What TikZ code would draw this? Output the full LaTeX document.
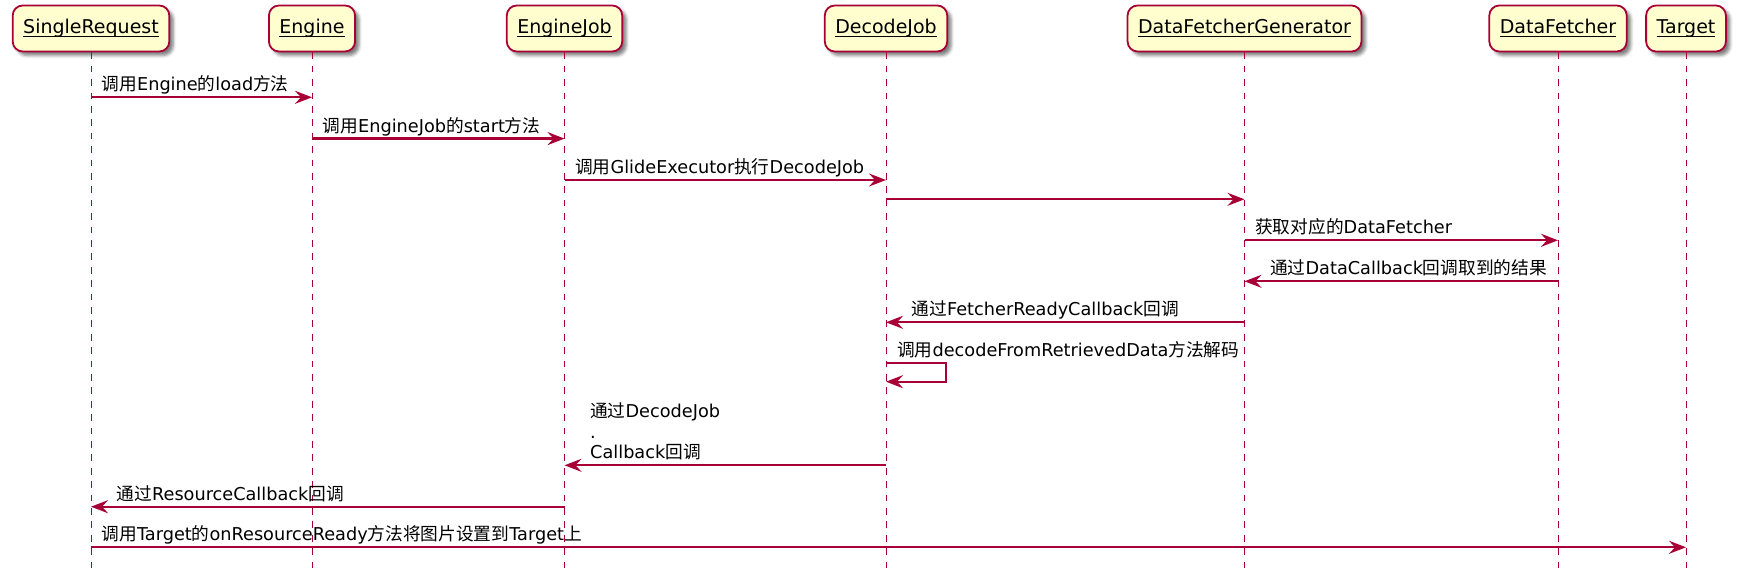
\documentclass[tikz,border=0pt]{standalone}
\usepackage{fontspec}
\setmainfont{DejaVu Sans}
\newfontfamily\cjk{Noto Sans CJK SC}
\usetikzlibrary{arrows.meta,shadows.blur}
\definecolor{plborder}{HTML}{A80036}
\definecolor{plfill}{HTML}{FEFECE}
\newcommand\zh[1]{{\cjk #1}}
\newcommand\ulin[1]{\setbox0\hbox{#1}\rlap{\rule[-3.5pt]{\wd0}{1.3pt}}\box0}
\begin{document}
\begin{tikzpicture}[x=1pt,y=-1pt,
  participant/.style={draw=plborder, line width=1.8pt, fill=plfill, rounded corners=10pt,
    minimum height=46pt, inner xsep=10.5pt, inner ysep=0pt, font=\fontsize{19}{22}\selectfont,
    blur shadow={shadow xshift=4pt, shadow yshift=-4pt, shadow blur radius=3pt, shadow opacity=50}},
  lifeline/.style={draw=plborder, line width=1pt, dash pattern=on 6.7pt off 6.7pt},
  msg/.style={draw=plborder, line width=2.3pt, -{Stealth[length=17pt,width=13pt,inset=6pt]}},
  lbl/.style={anchor=base west, inner sep=0pt, font=\fontsize{17.7}{20.5}\selectfont}
]
\useasboundingbox (0,0) rectangle (1739,588);
% participants
\node[participant] (sr)  at (91,28.5)   {\ulin{SingleRequest}};
\node[participant] (en)  at (312,28.5)  {\ulin{Engine}};
\node[participant] (ej)  at (564.5,28.5){\ulin{EngineJob}};
\node[participant] (dj)  at (886,28.5)  {\ulin{DecodeJob}};
\node[participant] (dfg) at (1244.5,28.5){\ulin{DataFetcherGenerator}};
\node[participant] (df)  at (1558,28.5) {\ulin{DataFetcher}};
\node[participant] (tg)  at (1686,28.5) {\ulin{Target}};
% rows
\coordinate (bot) at (0,572);
\coordinate (m1) at (0,97.3);
\coordinate (m2) at (0,138.6);
\coordinate (m3) at (0,180);
\coordinate (m4) at (0,199.3);
\coordinate (m5) at (0,240.3);
\coordinate (m6) at (0,281.3);
\coordinate (m7) at (0,322.3);
\coordinate (m8) at (0,363.3);
\coordinate (m8b) at (0,381.7);
\coordinate (m9) at (0,465.3);
\coordinate (m10) at (0,506.7);
\coordinate (m11) at (0,547.3);
% lifelines
\foreach \p in {sr,en,ej,dj,dfg,df,tg}{
  \draw[lifeline] (\p.south) -- (\p |- bot);
}
% messages
\draw[msg] (sr |- m1) -- (en |- m1);
\node[lbl] (l1) at ([shift={(10.5,-6.5)}]sr |- m1) {\zh{调用}Engine\zh{的}load\zh{方法}};
\draw[msg] (en |- m2) -- (ej |- m2);
\node[lbl] (l2) at ([shift={(10.5,-6.5)}]en |- m2) {\zh{调用}EngineJob\zh{的}start\zh{方法}};
\draw[msg] (ej |- m3) -- (dj |- m3);
\node[lbl] (l3) at ([shift={(10.5,-6.5)}]ej |- m3) {\zh{调用}GlideExecutor\zh{执行}DecodeJob};
\draw[msg] (dj |- m4) -- (dfg |- m4);
\draw[msg] (dfg |- m5) -- (df |- m5);
\node[lbl] (l5) at ([shift={(10.5,-6.5)}]dfg |- m5) {\zh{获取对应的}DataFetcher};
\draw[msg] (df |- m6) -- (dfg |- m6);
\node[lbl] (l6) at ([shift={(25.5,-6.5)}]dfg |- m6) {\zh{通过}DataCallback\zh{回调取到的结果}};
\draw[msg] (dfg |- m7) -- (dj |- m7);
\node[lbl] (l7) at ([shift={(25.5,-6.5)}]dj |- m7) {\zh{通过}FetcherReadyCallback\zh{回调}};
\draw[msg] (dj |- m8) -- ++(59.7,0) |- (dj |- m8b);
\node[lbl] (l8) at ([shift={(11,-6.5)}]dj |- m8) {\zh{调用}decodeFromRetrievedData\zh{方法解码}};
\draw[msg] (dj |- m9) -- (ej |- m9);
\node[lbl] (l9) at ([shift={(25.5,-6.5)}]ej |- m9) {\begin{tabular}[b]{@{}l@{}}\zh{通过}DecodeJob\\.\\Callback\zh{回调}\end{tabular}};
\draw[msg] (ej |- m10) -- (sr |- m10);
\node[lbl] (l10) at ([shift={(25.5,-6.5)}]sr |- m10) {\zh{通过}ResourceCallback\zh{回调}};
\draw[msg] (sr |- m11) -- (tg |- m11);
\node[lbl] (l11) at ([shift={(10.5,-6.5)}]sr |- m11) {\zh{调用}Target\zh{的}onResourceReady\zh{方法将图片设置到}Target\zh{上}};
\end{tikzpicture}
\end{document}
